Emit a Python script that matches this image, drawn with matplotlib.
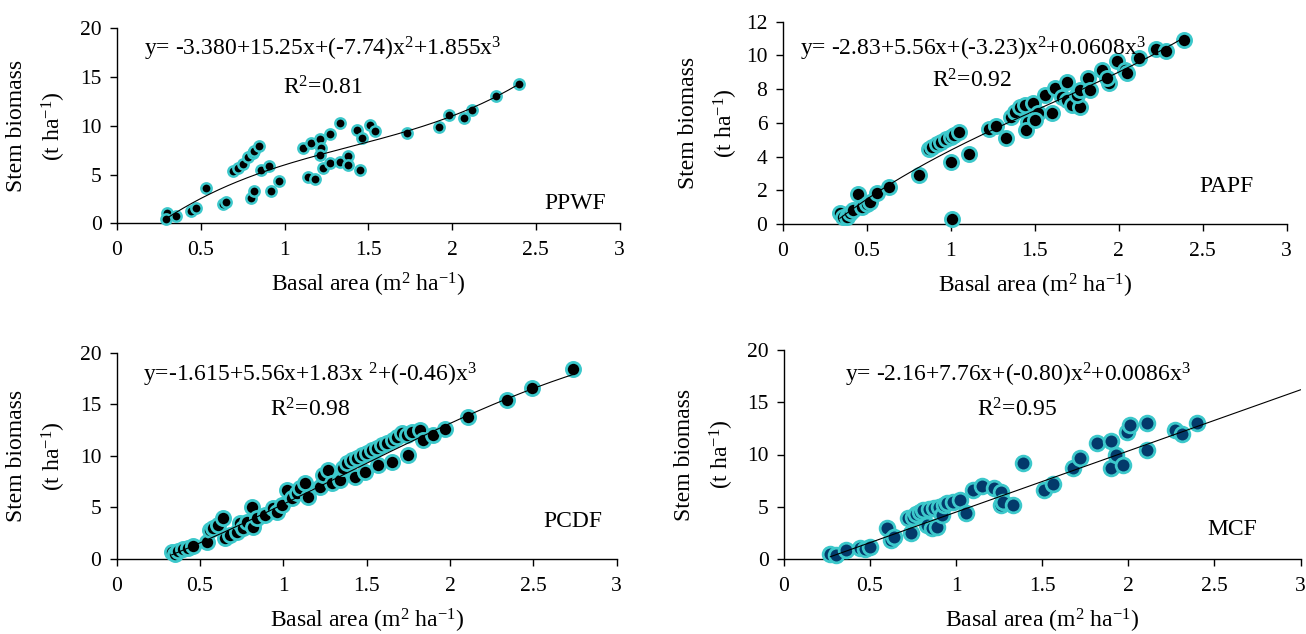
import numpy as np
import matplotlib
matplotlib.use("Agg")
import matplotlib.pyplot as plt

plt.rcParams['font.family'] = ['Liberation Serif', 'DejaVu Serif']
plt.rcParams['mathtext.fontset'] = 'custom'
plt.rcParams['mathtext.rm'] = 'Liberation Serif'
plt.rcParams['mathtext.it'] = 'Liberation Serif:italic'
plt.rcParams['mathtext.bf'] = 'Liberation Serif:bold'

# ---- data ----
ppwf_x = [0.30, 0.29, 0.35, 0.44, 0.47, 0.53, 0.63, 0.65, 0.69, 0.72, 0.75, 0.78,
          0.81, 0.82, 0.85, 0.80, 0.82, 0.86, 0.91, 0.92, 0.97, 1.11, 1.16, 1.21,
          1.22, 1.21, 1.23, 1.14, 1.18, 1.27, 1.33, 1.27, 1.33, 1.38, 1.38, 1.45,
          1.43, 1.46, 1.51, 1.54, 1.73, 1.92, 1.98, 2.07, 2.12, 2.26, 2.40]
ppwf_y = [1.09, 0.44, 0.75, 1.26, 1.54, 3.62, 1.98, 2.18, 5.39, 5.63, 6.08, 6.76,
          7.17, 7.40, 7.92, 2.63, 3.31, 5.46, 5.90, 3.31, 4.37, 7.68, 8.19, 8.67,
          7.68, 7.00, 5.67, 4.78, 4.57, 9.20, 10.30, 6.20, 6.30, 6.90, 5.94, 5.46,
          9.56, 8.80, 10.10, 9.50, 9.28, 9.83, 11.10, 10.75, 11.60, 13.10, 14.30]

papf_x = [0.34, 0.36, 0.38, 0.40, 0.42, 0.45, 0.47, 0.50, 0.52, 0.56, 0.63, 0.81,
          0.87, 0.89, 0.92, 0.94, 0.97, 1.00, 1.02, 1.05, 1.00, 1.11, 1.01, 1.23,
          1.27, 1.33, 1.36, 1.38, 1.41, 1.44, 1.46, 1.45, 1.49, 1.52, 1.50, 1.56,
          1.60, 1.62, 1.66, 1.69, 1.69, 1.72, 1.77, 1.75, 1.77, 1.82, 1.83, 1.90,
          1.94, 1.93, 1.99, 2.04, 2.05, 2.12, 2.22, 2.28, 2.39]
papf_y = [0.63, 0.43, 0.40, 0.67, 0.83, 1.76, 1.03, 1.19, 1.32, 1.86, 2.21, 2.90,
          4.43, 4.58, 4.74, 4.88, 5.02, 5.18, 5.28, 5.43, 3.66, 4.13, 0.28, 5.61,
          5.81, 5.08, 6.36, 6.66, 6.92, 7.06, 6.07, 5.57, 7.15, 6.56, 6.17, 7.65,
          6.60, 8.04, 7.55, 8.44, 7.35, 7.06, 6.96, 7.65, 7.94, 8.64, 7.94, 9.13,
          8.34, 8.64, 9.68, 9.13, 8.93, 9.82, 10.36, 10.28, 10.90]

pcdf_x = [0.33, 0.35, 0.37, 0.40, 0.43, 0.46, 0.54, 0.56, 0.58, 0.61, 0.64, 0.65,
          0.68, 0.72, 0.74, 0.76, 0.78, 0.81, 0.82, 0.84, 0.89, 0.94, 0.96, 0.99,
          1.02, 1.05, 1.08, 1.10, 1.13, 1.15, 1.22, 1.24, 1.27, 1.29, 1.34, 1.36,
          1.38, 1.41, 1.43, 1.44, 1.47, 1.49, 1.50, 1.53, 1.56, 1.57, 1.59, 1.62,
          1.65, 1.66, 1.68, 1.71, 1.75, 1.74, 1.77, 1.82, 1.84, 1.90, 1.97, 2.11,
          2.34, 2.49, 2.74]
pcdf_y = [0.65, 0.48, 0.78, 0.97, 1.03, 1.29, 1.62, 2.81, 3.04, 3.30, 3.94, 2.07,
          2.33, 2.65, 3.46, 2.97, 3.62, 5.08, 3.14, 3.94, 4.27, 4.91, 4.59, 5.24,
          6.69, 5.88, 6.37, 6.85, 7.34, 6.05, 7.02, 8.15, 8.63, 7.34, 7.66, 8.79,
          9.28, 9.60, 7.99, 9.76, 10.09, 8.47, 10.25, 10.57, 10.73, 9.12, 11.06, 11.22,
          9.44, 11.54, 11.87, 12.19, 10.09, 12.03, 12.35, 12.51, 11.54, 12.00, 12.61, 13.80,
          15.40, 16.60, 18.40]

mcf_x = [0.27, 0.30, 0.36, 0.44, 0.47, 0.50, 0.60, 0.62, 0.64, 0.72, 0.74, 0.75,
         0.77, 0.79, 0.81, 0.83, 0.84, 0.86, 0.87, 0.89, 0.90, 0.92, 0.93, 0.95,
         0.98, 1.02, 1.06, 1.10, 1.15, 1.22, 1.26, 1.26, 1.27, 1.33, 1.39, 1.51,
         1.56, 1.68, 1.72, 1.82, 1.90, 1.90, 1.93, 1.97, 1.99, 2.01, 2.11, 2.11,
         2.27, 2.31, 2.40]
mcf_y = [0.48, 0.38, 0.86, 1.09, 0.93, 1.18, 3.00, 1.82, 2.14, 3.89, 2.46, 4.05,
         4.28, 4.47, 4.66, 3.26, 4.79, 2.94, 4.92, 3.10, 5.01, 4.21, 5.17, 5.33,
         5.49, 5.65, 4.37, 6.60, 7.02, 6.77, 6.45, 5.17, 5.49, 5.17, 9.16, 6.60,
         7.15, 8.75, 9.64, 11.08, 11.30, 8.68, 9.96, 9.00, 12.13, 12.83, 12.99, 10.44,
         12.35, 12.00, 13.00]

# printed cubic coefficients (c0, c1, c2, c3) - these match the drawn curves
ppwf_coef = [-3.380, 15.25, -7.74, 1.855]
pcdf_coef = [-1.615, 5.56, 1.83, -0.46]
# MCF trend line as drawn in the figure (intercept, slope)
mcf_line = [-1.36, 5.85]

labels = ['PPWF', 'PAPF', 'PCDF', 'MCF']
equations = [
    'y= -3.380+15.25x+(-7.74)x$^{2}$+1.855x$^{3}$',
    'y= -2.83+5.56x+(-3.23)x$^{2}$+0.0608x$^{3}$',
    'y=-1.615+5.56x+1.83x $^{2}$+(-0.46)x$^{3}$',
    'y= -2.16+7.76x+(-0.80)x$^{2}$+0.0086x$^{3}$',
]
r2_text = ['R$^{2}$=0.81', 'R$^{2}$=0.92', 'R$^{2}$=0.98', 'R$^{2}$=0.95']

W, H = 1306, 634
cyan = '#3cc8cb'
navy = '#033a6b'

fig = plt.figure(figsize=(W / 100, H / 100), dpi=100)


def px_axes(left, right, top, bottom):
    return fig.add_axes([left / W, 1 - bottom / H, (right - left) / W, (bottom - top) / H])


def cubic(coef, x):
    return coef[0] + coef[1] * x + coef[2] * x ** 2 + coef[3] * x ** 3


def style(ax, ymax, ystep, ylab_x, hpx):
    ax.set_xlim(0, 3)
    ax.set_ylim(0, ymax)
    ax.set_xticks([0, 0.5, 1, 1.5, 2, 2.5, 3])
    ax.set_xticklabels(['0', '0.5', '1', '1.5', '2', '2.5', '3'])
    yt = np.arange(0, ymax + 0.01, ystep)
    ax.set_yticks(yt)
    ax.set_yticklabels([str(int(v)) for v in yt])
    for s in ['top', 'right']:
        ax.spines[s].set_visible(False)
    for s in ['left', 'bottom']:
        ax.spines[s].set_linewidth(1.0)
    ax.tick_params(axis='both', direction='out', length=5, width=1.0, labelsize=15.5)
    ax.tick_params(axis='x', pad=8)
    ax.tick_params(axis='y', pad=6)
    ax.set_xlabel('Basal area (m$^{2}$ ha$^{-1}$)', fontsize=17)
    ax.xaxis.set_label_coords(0.5, -48 / hpx)
    ax.set_ylabel('Stem biomass\n(t ha$^{-1}$)', fontsize=17, linespacing=1.6)
    ax.yaxis.set_label_coords(ylab_x, 0.5)


# ---- panel 1: PPWF ----
ax1 = px_axes(117, 619.5, 28.3, 223.3)
ax1.plot(ppwf_x, ppwf_y, 'o', ms=7.4, mfc='black', mec=cyan, mew=1.8, clip_on=False, zorder=3)
xs = np.linspace(min(ppwf_x), max(ppwf_x), 200)
ax1.plot(xs, cubic(ppwf_coef, xs), color='black', lw=0.8, zorder=4)
style(ax1, 20, 5, -0.0975, 195)
ax1.text(1.23, 17.2, equations[0], fontsize=17, ha='center', va='baseline')
ax1.text(1.23, 13.2, r2_text[0], fontsize=17, ha='center', va='baseline')
ax1.text(2.55, 2.0, labels[0], fontsize=17, ha='left', va='center')

# ---- panel 2: PAPF ----
ax2 = px_axes(782.7, 1286.7, 21.7, 224)
ax2.plot(papf_x, papf_y, 'o', ms=10.2, mfc='black', mec=cyan, mew=2.0, clip_on=False, zorder=3)
papf_fit = np.polyfit(papf_x, papf_y, 3)
xs = np.linspace(min(papf_x), max(papf_x), 200)
ax2.plot(xs, np.polyval(papf_fit, xs), color='black', lw=0.8, zorder=4)
style(ax2, 12, 2, -0.0847, 202.3)
ax2.text(1.13, 10.02, equations[1], fontsize=17, ha='center', va='baseline')
ax2.text(1.13, 8.07, r2_text[1], fontsize=17, ha='center', va='baseline')
ax2.text(2.48, 2.22, labels[1], fontsize=17, ha='left', va='center')

# ---- panel 3: PCDF ----
ax3 = px_axes(116.7, 616.7, 352.7, 559)
ax3.plot(pcdf_x, pcdf_y, 'o', ms=10.2, mfc='black', mec=cyan, mew=2.0, clip_on=False, zorder=3)
xs = np.linspace(min(pcdf_x), max(pcdf_x), 200)
ax3.plot(xs, cubic(pcdf_coef, xs), color='black', lw=0.8, zorder=4)
style(ax3, 20, 5, -0.0974, 206.3)
ax3.text(1.16, 17.25, equations[2], fontsize=17, ha='center', va='baseline')
ax3.text(1.16, 13.8, r2_text[2], fontsize=17, ha='center', va='baseline')
ax3.text(2.56, 3.6, labels[2], fontsize=17, ha='left', va='center')

# ---- panel 4: MCF ----
ax4 = px_axes(783.9, 1300.5, 350, 559)
ax4.plot(mcf_x, mcf_y, 'o', ms=10.6, mfc=navy, mec=cyan, mew=2.0, clip_on=False, zorder=3)
xs = np.linspace(min(mcf_x), 3.0, 200)
ax4.plot(xs, mcf_line[0] + mcf_line[1] * xs, color='black', lw=0.8, zorder=4)
style(ax4, 20, 5, -0.0927, 209)
ax4.text(1.357, 16.97, equations[3], fontsize=17, ha='center', va='baseline')
ax4.text(1.357, 13.6, r2_text[3], fontsize=17, ha='center', va='baseline')
ax4.text(2.46, 2.78, labels[3], fontsize=17, ha='left', va='center')

fig.savefig('out.png', dpi=100)
